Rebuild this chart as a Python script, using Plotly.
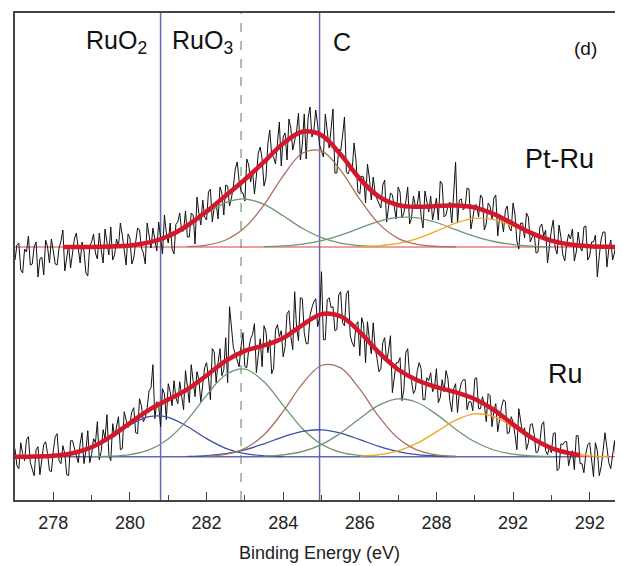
import numpy as np
import plotly.graph_objects as go

# ---------------- data ----------------
# binding-energy axis of the measured spectra (eV), 0.05 eV steps
ENERGY = np.round(277.0 + 0.05 * np.arange(319), 2)

# vertical offsets (baselines) of the two stacked spectra, arbitrary units
PTRU_BASE = 253.0
RU_BASE = 43.3

# measured counts above baseline (a.u.)
PTRU_RAW = [
    -13, 2, 4, -23, -26, -2, -5, 11, -18, -17, 0, 5, -30, -12, -10, -28, 7, 0, -16, 8,
    -4, -17, -18, -1, 6, 17, -24, -11, 2, -21, -7, 8, 14, -4, -16, 5, -4, -26, -29, 1,
    5, 13, -6, -12, 14, -3, -16, 18, 2, -8, 20, -13, -8, 8, 0, 24, 12, -4, -18, 13,
    9, -17, -11, 5, 19, 17, -1, -6, -17, 24, 10, -1, 19, 5, -4, 25, 9, -7, 32, 14,
    4, 24, -2, -7, 23, 25, 34, 16, 16, 36, 10, 10, 34, 32, 3, 50, 34, 22, 47, 30,
    27, 55, 58, 25, 40, 44, 28, 60, 54, 32, 62, 61, 41, 49, 61, 78, 85, 66, 56, 54,
    46, 88, 82, 65, 77, 53, 71, 94, 100, 88, 61, 69, 103, 117, 92, 90, 83, 109, 125, 81,
    110, 114, 87, 128, 119, 97, 107, 116, 134, 87, 103, 133, 88, 129, 140, 110, 116, 137, 122, 102,
    96, 90, 133, 114, 99, 118, 138, 74, 74, 98, 96, 111, 130, 75, 73, 81, 76, 104, 87, 55,
    53, 71, 70, 44, 83, 69, 47, 70, 54, 48, 43, 39, 62, 67, 25, 43, 54, 52, 40, 28,
    60, 55, 29, 34, 45, 60, 23, 29, 51, 41, 42, 56, 31, 19, 56, 47, 35, 51, 27, 38,
    49, 27, 66, 63, 30, 32, 41, 45, 24, 53, 85, 24, 47, 48, 37, 40, 59, 58, 18, 29,
    42, 42, 30, 52, 49, 17, 23, 44, 41, 28, 49, 52, 11, 30, 28, 15, 37, 41, 19, 16,
    44, 33, 6, -2, 24, 24, 9, 34, 30, 5, 11, 15, -6, -5, 20, 23, 11, 17, -16, 3,
    17, 27, -1, -7, 22, 10, -8, -14, 3, 13, 8, 18, -14, -5, 15, 0, -4, 20, 21, -13,
    -9, 5, 5, 12, -30, -9, 8, 15, 15, -20, -2, 7, -13, -5, 10, 11, -7, -1, 3,
]
RU_RAW = [
    8, -9, -12, 14, 3, -4, 17, 20, -6, -13, -19, 7, 10, -18, -2, 12, 15, 3, -14, -15,
    6, 20, 23, -4, -7, 11, 3, -18, -19, 16, 16, 8, 1, -6, 13, 24, -7, 6, 26, -6,
    2, 18, 14, 35, -3, 5, 27, 18, 42, 2, -4, 33, 20, 30, 40, 7, 8, 45, 37, 29,
    33, 45, 49, 24, 23, 58, 51, 35, 39, 49, 66, 69, 92, 38, 55, 51, 30, 68, 63, 37,
    73, 65, 51, 76, 59, 53, 75, 60, 47, 86, 72, 54, 92, 77, 60, 85, 77, 55, 72, 89,
    94, 79, 57, 108, 105, 74, 94, 108, 81, 87, 119, 74, 150, 130, 109, 103, 97, 90, 110, 124,
    90, 89, 107, 118, 122, 133, 84, 103, 118, 90, 131, 125, 104, 117, 83, 88, 127, 132, 120, 126,
    100, 110, 143, 146, 120, 107, 165, 129, 116, 159, 158, 124, 113, 113, 141, 149, 155, 158, 130, 139,
    185, 117, 117, 157, 159, 149, 150, 126, 127, 162, 165, 134, 131, 163, 166, 121, 114, 110, 132, 135,
    101, 139, 132, 94, 135, 117, 103, 134, 109, 98, 85, 88, 114, 119, 95, 106, 121, 64, 79, 94,
    94, 99, 56, 67, 104, 108, 81, 76, 63, 67, 86, 94, 88, 57, 57, 79, 76, 84, 65, 69,
    88, 54, 59, 77, 65, 86, 78, 56, 45, 68, 73, 44, 65, 74, 77, 77, 47, 55, 55, 46,
    78, 79, 48, 48, 60, 53, 35, 63, 61, 30, 46, 53, 25, 38, 50, 57, 55, 23, 24, 40,
    35, 22, 7, 48, 37, 23, 29, 7, 14, 32, 33, 23, 4, 5, 15, 32, 35, 6, 2, 10,
    4, 23, 24, -14, -12, 13, 12, 15, 15, -9, 0, 6, -13, 21, 21, -7, -7, -16, 3, 12,
    14, -3, -20, 14, 6, -19, -10, 6, 24, 9, -6, -12, 1, 16, -14, -7, 9, 2, -2,
]

# ---- Pt-Ru fitted envelope and components (sampled every 0.5 eV) ----
PTRU_FIT_E = [278.25] + [278.5 + 0.5 * k for k in range(29)] + [292.75]
PTRU_FIT = [0, 0, 0, 0.5, 1.6, 4.6, 10.8, 21.5, 35.6, 51.3, 67.5, 85.1, 103.5,
            115.3, 111.8, 92.4, 68.2, 50.3, 41.9, 40.2, 41.0, 41.4, 39.4, 32.9,
            23.3, 13.6, 6.4, 2.4, 0.7, 0.2, 0]
PTRU_C_E = [281.5 + 0.5 * k for k in range(15)]
PTRU_C = [0.4, 1.9, 7.0, 19.4, 42.1, 71.2, 93.7, 96.1, 76.7, 47.7, 23.1, 8.7, 2.6, 0.6, 0.1]
PTRU_G1_E = [279.5 + 0.5 * k for k in range(15)]
PTRU_G1 = [0.5, 1.6, 4.6, 10.8, 21.1, 33.7, 44.3, 48.0, 42.6, 31.2, 18.7, 9.3, 3.8, 1.3, 0.3]
PTRU_G2_E = [283.5 + 0.5 * k for k in range(16)]
PTRU_G2 = [0.4, 1.1, 2.9, 6.4, 11.9, 18.9, 25.7, 29.6, 29.2, 24.5, 17.4, 10.7, 5.5, 2.4, 0.9, 0.3]
PTRU_OR_E = [286.0 + 0.5 * k for k in range(14)]
PTRU_OR = [0.3, 1.2, 3.6, 8.4, 15.9, 23.9, 28.7, 27.4, 20.9, 12.7, 6.1, 2.4, 0.7, 0.2]

# ---- Ru fitted envelope and components ----
RU_FIT_E = [277.0 + 0.5 * k for k in range(30)] + [291.75]
RU_FIT = [0.0, 0.2, 1.0, 3.5, 9.4, 20.0, 33.7, 46.8, 57.1, 67.3, 81.2, 95.9, 105.8,
          111.3, 118.7, 131.6, 142.6, 140.4, 124.6, 104.1, 87.2, 76.4, 69.6, 64.6,
          57.7, 46.7, 32.3, 18.5, 8.6, 3.2, 1.5]
RU_B1_E = [277.5 + 0.5 * k for k in range(14)]
RU_B1 = [0.2, 1.0, 3.5, 9.3, 19.5, 31.6, 40.0, 39.4, 30.2, 18.1, 8.4, 3.0, 0.9, 0.2]
RU_G1_E = [279.0 + 0.5 * k for k in range(16)]
RU_G1 = [0.1, 0.5, 2.1, 6.8, 17.7, 36.8, 61.4, 82.0, 87.6, 75.0, 51.4, 28.2, 12.4, 4.3, 1.2, 0.3]
RU_C_E = [282.0 + 0.5 * k for k in range(14)]
RU_C = [0.6, 2.4, 8.3, 21.9, 45.3, 72.8, 91.2, 88.9, 67.5, 40.0, 18.4, 6.6, 1.8, 0.4]
RU_B2_E = [281.5 + 0.5 * k for k in range(15)]
RU_B2 = [0.3, 1.1, 3.1, 6.9, 12.9, 19.9, 25.4, 26.9, 23.6, 17.1, 10.3, 5.1, 2.1, 0.7, 0.2]
RU_G2_E = [283.5 + 0.5 * k for k in range(16)]
RU_G2 = [0.6, 1.9, 5.2, 12.1, 23.6, 38.2, 51.5, 57.9, 54.2, 42.3, 27.5, 14.9, 6.7, 2.5, 0.8, 0.2]
RU_OR_E = [286.0 + 0.5 * k for k in range(14)]
RU_OR = [0.6, 2.0, 5.8, 13.5, 24.8, 36.5, 42.8, 40.0, 29.8, 17.7, 8.4, 3.2, 0.9, 0.2]

# reference binding energies marked by vertical lines
E_RUO2 = 280.8
E_RUO3 = 282.9
E_C = 284.95
TICK_VALS = [278, 280, 282, 284, 286, 288, 290, 292]
TICK_TEXT = ["278", "280", "282", "284", "286", "288", "292", "292"]
X_RANGE = [277.0, 292.87]
Y_RANGE = [0, 487]

# ---------------- styles ----------------
FONT = "Liberation Sans, Arial, sans-serif"
RED = "#d3182b"
BROWN = "#a5735d"
GREEN = "#6f9672"
ORANGE = "#f2a51f"
BLUE = "#3f4ea6"
VLINE = "#6168b5"

fig = go.Figure()


def comp(x, y, base, color, width=1.3):
    fig.add_trace(go.Scatter(x=x, y=np.array(y) + base, mode="lines",
                             line=dict(color=color, width=width, shape="spline", smoothing=1.0),
                             hoverinfo="skip"))


# baselines
fig.add_trace(go.Scatter(x=[X_RANGE[0], X_RANGE[1]], y=[PTRU_BASE, PTRU_BASE], mode="lines",
                         line=dict(color="#e23a48", width=1), hoverinfo="skip"))
fig.add_trace(go.Scatter(x=[X_RANGE[0], RU_FIT_E[-1]], y=[RU_BASE, RU_BASE], mode="lines",
                         line=dict(color=VLINE, width=1.5), hoverinfo="skip"))
fig.add_trace(go.Scatter(x=[RU_FIT_E[-1], X_RANGE[1]], y=[RU_BASE, RU_BASE], mode="lines",
                         line=dict(color="#e23a48", width=1), hoverinfo="skip"))

# raw spectra
fig.add_trace(go.Scatter(x=ENERGY, y=np.array(PTRU_RAW) + PTRU_BASE, mode="lines",
                         line=dict(color="#111111", width=1), hoverinfo="skip"))
fig.add_trace(go.Scatter(x=ENERGY, y=np.array(RU_RAW) + RU_BASE, mode="lines",
                         line=dict(color="#111111", width=1), hoverinfo="skip"))

# components
comp(PTRU_G1_E, PTRU_G1, PTRU_BASE, GREEN)
comp(PTRU_G2_E, PTRU_G2, PTRU_BASE, GREEN)
comp(PTRU_OR_E, PTRU_OR, PTRU_BASE, ORANGE)
comp(PTRU_C_E, PTRU_C, PTRU_BASE, BROWN)
comp(RU_B1_E, RU_B1, RU_BASE, BLUE)
comp(RU_G1_E, RU_G1, RU_BASE, GREEN)
comp(RU_B2_E, RU_B2, RU_BASE, BLUE)
comp(RU_G2_E, RU_G2, RU_BASE, GREEN)
comp(RU_OR_E, RU_OR, RU_BASE, ORANGE)
comp(RU_C_E, RU_C, RU_BASE, BROWN)

# envelopes
comp(PTRU_FIT_E, PTRU_FIT, PTRU_BASE, RED, width=4.5)
comp(RU_FIT_E, RU_FIT, RU_BASE, RED, width=4.5)

shapes = [
    dict(type="line", xref="x", yref="paper", x0=E_RUO2, x1=E_RUO2, y0=0, y1=1,
         line=dict(color=VLINE, width=1.5), layer="below"),
    dict(type="line", xref="x", yref="paper", x0=E_C, x1=E_C, y0=0, y1=1,
         line=dict(color=VLINE, width=1.5), layer="below"),
    dict(type="line", xref="x", yref="paper", x0=E_RUO3, x1=E_RUO3, y0=0, y1=1,
         line=dict(color="#7f9c80", width=1.3, dash="dash"), layer="below"),
]

annotations = [
    dict(x=280.5, y=458, xref="x", yref="y", text="RuO<sub>2</sub>", xanchor="right",
         yanchor="middle", showarrow=False, font=dict(family=FONT, size=25, color="#111")),
    dict(x=281.05, y=458, xref="x", yref="y", text="RuO<sub>3</sub>", xanchor="left",
         yanchor="middle", showarrow=False, font=dict(family=FONT, size=25, color="#111")),
    dict(x=285.25, y=458, xref="x", yref="y", text="C", xanchor="left",
         yanchor="middle", showarrow=False, font=dict(family=FONT, size=25, color="#111")),
    dict(x=291.88, y=452, xref="x", yref="y", text="(d)", xanchor="center",
         yanchor="middle", showarrow=False, font=dict(family=FONT, size=19, color="#111")),
    dict(x=291.2, y=341, xref="x", yref="y", text="Pt-Ru", xanchor="center",
         yanchor="middle", showarrow=False, font=dict(family=FONT, size=27, color="#111")),
    dict(x=291.36, y=126, xref="x", yref="y", text="Ru", xanchor="center",
         yanchor="middle", showarrow=False, font=dict(family=FONT, size=27, color="#111")),
    dict(x=0.5, y=-0.108, xref="paper", yref="paper", text="Binding Energy (eV)",
         xanchor="center", yanchor="middle", showarrow=False,
         font=dict(family=FONT, size=18, color="#222")),
]

# the page body has an 8px margin, so the figure is sized/offset to compensate
fig.update_layout(
    width=615, height=558,
    margin=dict(l=7, r=0, t=5, b=66, autoexpand=False),
    paper_bgcolor="white", plot_bgcolor="white",
    showlegend=False,
    shapes=shapes, annotations=annotations,
    font=dict(family=FONT, color="#222"),
    xaxis=dict(range=X_RANGE, tickvals=TICK_VALS, ticktext=TICK_TEXT,
               ticks="inside", ticklen=8, tickwidth=1.3, tickcolor="#444",
               minor=dict(tickvals=[279, 281, 283, 285, 287, 289, 291], ticks="inside",
                          ticklen=5, tickwidth=1.2, tickcolor="#444"),
               showline=True, linecolor="#444", linewidth=1.5, mirror=True,
               showgrid=False, zeroline=False, automargin=False,
               ticklabelstandoff=6,
               tickfont=dict(family=FONT, size=18, color="#222")),
    yaxis=dict(range=Y_RANGE, showticklabels=False, ticks="", showline=True,
               linecolor="#444", linewidth=1.5, showgrid=False, zeroline=False,
               automargin=False),
)

fig.write_html("out.html")
